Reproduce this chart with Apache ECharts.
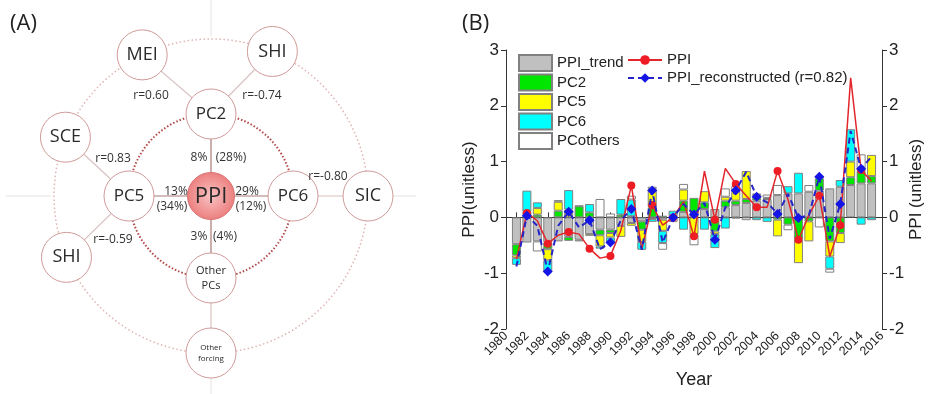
<!DOCTYPE html>
<html>
<head>
<meta charset="utf-8">
<script src="https://cdn.jsdelivr.net/npm/echarts@6/dist/echarts.min.js"></script>
<style>
  html, body { margin: 0; padding: 0; background: #fff; }
  #main { width: 930px; height: 394px; }
</style>
</head>
<body>
<div id="main"></div>
<script>
// ---- panel (B) data ----
var years = ['1980','1981','1982','1983','1984','1985','1986','1987','1988','1989','1990',
  '1991','1992','1993','1994','1995','1996','1997','1998','1999','2000','2001','2002','2003',
  '2004','2005','2006','2007','2008','2009','2010','2011','2012','2013','2014','2015','2016'];

var ppiTrend = [null,-0.48,-0.45,-0.43,-0.45,-0.43,-0.35,-0.40,-0.30,-0.22,-0.22,-0.15,-0.10,
  -0.07,-0.03,-0.04,0.01,0.10,0.08,0.15,0.15,0.18,0.22,0.26,0.30,0.33,0.40,0.43,0.43,0.46,0.48,
  0.52,0.55,0.58,0.61,0.61,null];
var pc2 = [null,-0.20,0.04,0.05,-0.12,0.12,-0.07,0.20,0.09,-0.10,-0.06,0.05,0.02,-0.15,0.18,
  0.03,0.01,0.20,0.27,0.12,-0.25,0.12,0.08,0.07,0.05,0.02,-0.04,-0.13,-0.40,-0.07,0.22,-0.43,
  -0.28,0.14,0.22,0.13,null];
var pc5 = [null,-0.05,0.06,0.12,-0.20,0.16,0.14,0.01,-0.03,-0.20,-0.08,-0.20,-0.05,-0.22,0.33,
  -0.20,null,0.20,-0.30,0.20,-0.05,0.07,0.18,0.50,0.05,null,-0.30,null,-0.42,-0.36,0.03,-0.27,
  -0.18,0.28,0.05,0.38,null];
var pc6 = [null,-0.12,0.38,0.10,-0.20,null,0.35,null,0.15,-0.04,-0.09,0.28,0.30,-0.14,-0.05,
  -0.22,0.10,-0.22,null,-0.22,-0.25,-0.20,-0.02,null,-0.05,-0.08,null,0.13,0.37,null,null,-0.22,
  0.12,0.58,-0.13,-0.05,null];
var pcOthers = [null,null,null,-0.18,null,0.03,null,-0.03,null,0.33,0.07,null,0.07,null,0.04,
  -0.12,-0.08,0.10,-0.20,null,null,0.15,0.08,-0.05,0.03,0.06,0.18,-0.10,null,0.12,-0.18,-0.07,
  null,null,0.25,null,null];
var ppi = [null,-0.75,0.08,-0.06,-0.47,-0.32,-0.26,-0.30,-0.56,-0.73,-0.69,-0.23,0.57,-0.57,
  0.22,-0.14,0.00,0.28,-0.34,0.83,-0.04,0.88,0.60,0.39,0.18,0.18,0.83,0.32,-0.40,0.04,0.39,
  -0.70,-0.14,2.50,0.85,0.65,null];
var ppiRecon = [null,-0.88,0.03,-0.15,-0.97,-0.15,0.10,-0.18,-0.05,-0.57,-0.45,-0.05,0.15,
  -0.58,0.48,-0.45,0.00,0.24,0.05,0.26,-0.40,0.18,0.48,0.82,0.37,0.27,0.06,0.42,-0.01,0.04,
  0.73,-0.38,0.24,1.55,0.87,1.09,null];

// ---- panel (A) data ----
var innerNames = ['PC2', 'PC5', 'PC6', 'Other\nPCs'];
var outerNames = ['MEI', 'SHI', 'SCE', 'SHI', 'SIC', 'Other\nforcing'];
var corrLabels = ['r=0.60', 'r=-0.74', 'r=0.83', 'r=-0.59', 'r=-0.80'];
var shareLabels = ['8%', '13%', '29%', '3%'];
var shareLabels2 = ['(28%)', '(34%)', '(12%)', '(4%)'];

var myChart = echarts.init(document.getElementById('main'));

/**
 * @name buildDiagram
 * @desc graphic elements for the network diagram of panel (A)
 */
function buildDiagram() {
  var cx = 211, cy = 196, rIn = 82, rOut = 157, nodeR = 25;
  var innerAng = [90, 180, 0, 270];
  var innerSize = [17, 17, 17, 11];
  var outerAng = [116, 67, 158, 203, 0, 270];
  var outerLink = [0, 0, 1, 1, 2, 3];
  var outerSize = [18, 18, 18, 18, 18, 8];
  var corrPos = [[151, 96], [262, 96], [113, 159], [113, 240], [328, 177]];
  var sharePos = [[199, 158], [176, 192], [247, 192], [199, 237]];
  var share2Pos = [[231, 158], [172, 207], [251, 207], [225, 237]];
  var font = 'Open Sans';
  var els = [];

  function pos(r, a) {
    var t = a * Math.PI / 180;
    return [cx + r * Math.cos(t), cy - r * Math.sin(t)];
  }

  // faint cross hair outside outer ring
  [0, 90, 180, 270].forEach(function (a) {
    var p1 = pos(rOut + 3, a), p2 = pos(205, a);
    els.push({type: 'line', shape: {x1: p1[0], y1: p1[1], x2: p2[0], y2: p2[1]},
      style: {stroke: '#e6e0e0', lineWidth: 1}});
  });
  // rings
  els.push({type: 'circle', shape: {cx: cx, cy: cy, r: rOut},
    style: {fill: 'none', stroke: '#e2b4b4', lineWidth: 1.5, lineDash: [1.5, 2.5]}});
  els.push({type: 'circle', shape: {cx: cx, cy: cy, r: rIn},
    style: {fill: 'none', stroke: '#b34848', lineWidth: 2, lineDash: [1.5, 2]}});

  // links
  innerAng.forEach(function (a) {
    var p = pos(rIn, a);
    els.push({type: 'line', shape: {x1: cx, y1: cy, x2: p[0], y2: p[1]},
      style: {stroke: '#a97b78', lineWidth: 1.2}});
  });
  outerAng.forEach(function (a, i) {
    var p = pos(rOut, a), q = pos(rIn, innerAng[outerLink[i]]);
    els.push({type: 'line', shape: {x1: p[0], y1: p[1], x2: q[0], y2: q[1]},
      style: {stroke: '#d8c2c0', lineWidth: 1.2}});
  });

  // nodes
  function node(p, r, label, size) {
    els.push({type: 'circle', shape: {cx: p[0], cy: p[1], r: r},
      style: {fill: '#fff', stroke: '#cf9a98', lineWidth: 1}});
    els.push({type: 'text', style: {text: label, x: p[0], y: p[1], align: 'center',
      verticalAlign: 'middle', fontFamily: font, fontSize: size, fill: '#2a2a2a',
      lineHeight: size * 1.35}});
  }
  innerAng.forEach(function (a, i) { node(pos(rIn, a), nodeR, innerNames[i], innerSize[i]); });
  outerAng.forEach(function (a, i) { node(pos(rOut, a), nodeR, outerNames[i], outerSize[i]); });

  // central PPI
  els.push({type: 'circle', shape: {cx: cx, cy: cy, r: 23.5},
    style: {
      fill: new echarts.graphic.RadialGradient(0.5, 0.5, 0.5, [
        {offset: 0, color: '#f9c2c2'}, {offset: 1, color: '#ec7f7f'}]),
      stroke: '#d87070', lineWidth: 1}});
  els.push({type: 'text', style: {text: 'PPI', x: cx, y: cy + 1, align: 'center',
    verticalAlign: 'middle', fontFamily: font, fontSize: 22, fill: '#2a2a2a'}});

  function label(text, p) {
    els.push({type: 'text', style: {text: text, x: p[0], y: p[1], align: 'center',
      verticalAlign: 'middle', fontFamily: font, fontSize: 12, fill: '#333'}});
  }
  corrLabels.forEach(function (t, i) { label(t, corrPos[i]); });
  shareLabels.forEach(function (t, i) { label(t, sharePos[i]); });
  shareLabels2.forEach(function (t, i) { label(t, share2Pos[i]); });

  els.push({type: 'text', style: {text: '(A)', x: 10, y: 24, verticalAlign: 'middle',
    fontFamily: font, fontSize: 22, fill: '#222'}});
  els.push({type: 'text', style: {text: '(B)', x: 462, y: 24, verticalAlign: 'middle',
    fontFamily: font, fontSize: 22, fill: '#222'}});
  return els;
}

function barSeries(name, data, color) {
  return {
    name: name, type: 'bar', stack: 'pc', data: data, barWidth: 9,
    itemStyle: {color: color, borderColor: '#808080', borderWidth: 1},
    z: 2
  };
}

var axisFont = 'Liberation Sans';

var option = {
  animation: false,
  graphic: buildDiagram(),
  grid: {left: 506, right: 48, top: 50, bottom: 64},
  legend: [
    {
      orient: 'vertical', left: 518, top: 54, padding: 0,
      itemWidth: 33, itemHeight: 16, itemGap: 1.5,
      icon: 'rect',
      textStyle: {fontFamily: axisFont, fontSize: 15, color: '#222', lineHeight: 16},
      data: ['PPI_trend', 'PC2', 'PC5', 'PC6', 'PCothers']
    },
    {
      orient: 'vertical', left: 627, top: 52, padding: 0,
      itemWidth: 34, itemHeight: 12, itemGap: 2,
      textStyle: {fontFamily: axisFont, fontSize: 15, color: '#222', lineHeight: 16},
      data: ['PPI', 'PPI_reconstructed (r=0.82)']
    }
  ],
  xAxis: {
    type: 'category', data: years, boundaryGap: false,
    name: 'Year', nameLocation: 'middle', nameGap: 42,
    nameTextStyle: {fontFamily: axisFont, fontSize: 18, color: '#222'},
    axisLine: {lineStyle: {color: '#333'}},
    axisTick: {interval: 0, inside: true, length: 5, lineStyle: {color: '#333'}},
    axisLabel: {interval: 1, rotate: 45, fontFamily: axisFont, fontSize: 12.5, color: '#222', margin: 5},
    splitLine: {show: false}
  },
  yAxis: [
    {
      type: 'value', min: -2, max: 3, interval: 1, position: 'left',
      name: 'PPI(unitless)', nameLocation: 'middle', nameGap: 28,
      nameTextStyle: {fontFamily: axisFont, fontSize: 17, color: '#222'},
      axisLine: {show: true, lineStyle: {color: '#333'}},
      axisTick: {show: true, length: 5, lineStyle: {color: '#333'}},
      axisLabel: {fontFamily: axisFont, fontSize: 17, color: '#222', margin: 7},
      splitLine: {show: false}
    },
    {
      type: 'value', min: -2, max: 3, interval: 1, position: 'right',
      name: 'PPI (unitless)', nameLocation: 'middle', nameGap: 19,
      nameTextStyle: {fontFamily: axisFont, fontSize: 17, color: '#222'},
      axisLine: {show: true, lineStyle: {color: '#333'}},
      axisTick: {show: true, length: 5, lineStyle: {color: '#333'}},
      axisLabel: {fontFamily: axisFont, fontSize: 17, color: '#222', margin: 7},
      splitLine: {show: false}
    }
  ],
  series: [
    barSeries('PPI_trend', ppiTrend, '#c0c0c0'),
    barSeries('PC2', pc2, '#00e600'),
    barSeries('PC5', pc5, '#ffff00'),
    barSeries('PC6', pc6, '#00ffff'),
    barSeries('PCothers', pcOthers, '#ffffff'),
    {
      name: 'PPI', type: 'line', data: ppi, symbol: 'circle', symbolSize: 8,
      lineStyle: {color: '#e3262b', width: 1.5},
      itemStyle: {color: '#ee1c24'}, z: 4
    },
    {
      name: 'PPI_reconstructed (r=0.82)', type: 'line', data: ppiRecon,
      symbol: 'diamond', symbolSize: 10,
      lineStyle: {color: '#2424c8', width: 2, type: [6, 4]},
      itemStyle: {color: '#1414e6'}, z: 5
    }
  ]
};

myChart.setOption(option);
</script>
</body>
</html>
